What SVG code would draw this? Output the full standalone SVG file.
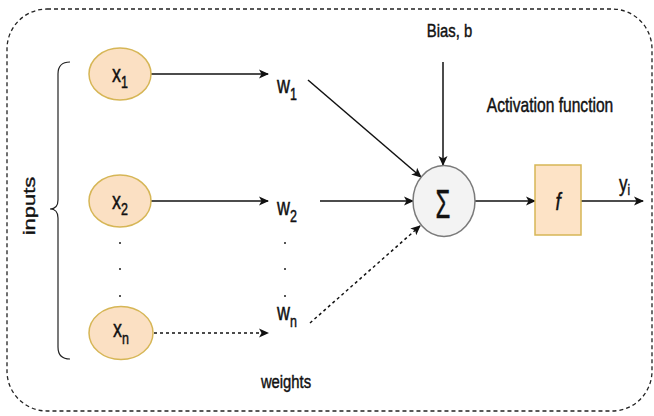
<svg xmlns="http://www.w3.org/2000/svg" width="654" height="416" viewBox="0 0 654 416">
  <style>
    .lbl { font-family: "Liberation Sans", Arial, sans-serif; fill: #111; stroke: #111; stroke-width: 0.45; }
    .frame { fill: none; stroke: #222; stroke-width: 1.3; stroke-dasharray: 4 3; }
    .inp { fill: #fbe0c3; stroke: #d6b656; stroke-width: 1.5; }
    .sum { fill: #f3f3f3; stroke: #7a7a7a; stroke-width: 1.5; }
    .act { fill: #fde3c6; stroke: #d6b656; stroke-width: 1.5; }
    .edge { fill: none; stroke: #111; stroke-width: 1.5; }
    .dash { stroke-dasharray: 3 3; }
    .brace { fill: none; stroke: #222; stroke-width: 1.2; }
    .dot { fill: #555; }
  </style>
  <defs>
    <marker id="arrow" viewBox="0 0 10 10" refX="9" refY="5" markerWidth="10" markerHeight="10" markerUnits="userSpaceOnUse" orient="auto">
      <path d="M0,0.5 L10,5 L0,9.5 L2.5,5 z" fill="#111"/>
    </marker>
  </defs>

  <!-- dashed frame -->
  <rect class="frame" x="7" y="9" width="645" height="402" rx="40" ry="40"/>

  <!-- brace grouping the inputs -->
  <g id="inputs-brace">
    <path class="brace" d="M70,62 Q58,62 58,74 L58,200 Q58,209 50,209 Q58,209 58,218 L58,347 Q58,359 70,359"/>
    <text class="lbl" font-size="22" text-anchor="middle" transform="translate(35,206) scale(0.78,1) rotate(-90)">inputs</text>
  </g>

  <!-- connectors -->
  <g id="connectors">
    <line class="edge" x1="151" y1="74" x2="268" y2="74" marker-end="url(#arrow)"/>
    <line class="edge" x1="151" y1="201" x2="268" y2="201" marker-end="url(#arrow)"/>
    <line class="edge dash" x1="154" y1="333" x2="268" y2="333" marker-end="url(#arrow)"/>
    <line class="edge" x1="308" y1="80" x2="421" y2="177" marker-end="url(#arrow)"/>
    <line class="edge" x1="320" y1="201" x2="413" y2="201" marker-end="url(#arrow)"/>
    <line class="edge dash" x1="310" y1="323" x2="420" y2="226" marker-end="url(#arrow)"/>
    <line class="edge" x1="443" y1="62" x2="443" y2="165" marker-end="url(#arrow)"/>
    <line class="edge" x1="475" y1="201" x2="535" y2="201" marker-end="url(#arrow)"/>
    <line class="edge" x1="581" y1="201" x2="643" y2="201" marker-end="url(#arrow)"/>
  </g>

  <!-- input nodes -->
  <g id="x1">
    <ellipse class="inp" cx="120" cy="74" rx="31" ry="26"/>
    <text class="lbl" font-size="23" text-anchor="middle" transform="translate(120,82) scale(0.78,1)">x<tspan font-size="16" dy="6">1</tspan></text>
  </g>
  <g id="x2">
    <ellipse class="inp" cx="120" cy="201" rx="31" ry="26"/>
    <text class="lbl" font-size="23" text-anchor="middle" transform="translate(120,209) scale(0.78,1)">x<tspan font-size="16" dy="6">2</tspan></text>
  </g>
  <g id="xn">
    <ellipse class="inp" cx="121" cy="333" rx="32" ry="26.5"/>
    <text class="lbl" font-size="23" text-anchor="middle" transform="translate(121,337) scale(0.78,1)">x<tspan font-size="16" dy="7">n</tspan></text>
  </g>

  <!-- vertical ellipsis between inputs and weights -->
  <g id="ellipsis">
    <rect class="dot" x="119" y="242" width="2" height="2"/>
    <rect class="dot" x="119" y="268" width="2" height="2"/>
    <rect class="dot" x="119" y="295" width="2" height="2"/>
    <rect class="dot" x="284" y="242" width="2" height="2"/>
    <rect class="dot" x="284" y="268" width="2" height="2"/>
    <rect class="dot" x="284" y="295" width="2" height="2"/>
  </g>

  <!-- weights -->
  <g id="w1">
    <text class="lbl" font-size="23" text-anchor="middle" transform="translate(287,93) scale(0.78,1)">w<tspan font-size="16" dy="7">1</tspan></text>
  </g>
  <g id="w2">
    <text class="lbl" font-size="23" text-anchor="middle" transform="translate(287,215) scale(0.78,1)">w<tspan font-size="16" dy="7">2</tspan></text>
  </g>
  <g id="wn">
    <text class="lbl" font-size="23" text-anchor="middle" transform="translate(287,320) scale(0.78,1)">w<tspan font-size="16" dy="7">n</tspan></text>
  </g>
  <g id="weights-label">
    <text class="lbl" font-size="19" text-anchor="middle" transform="translate(286,388) scale(0.78,1)">weights</text>
  </g>

  <!-- bias -->
  <g id="bias">
    <text class="lbl" font-size="19" text-anchor="middle" transform="translate(449.5,37) scale(0.78,1)">Bias, b</text>
  </g>

  <!-- summation node -->
  <g id="sum">
    <ellipse class="sum" cx="444" cy="201" rx="31" ry="35.5"/>
    <text class="lbl" font-size="40" text-anchor="middle" transform="translate(443,218) scale(0.6,1)">Σ</text>
  </g>

  <!-- activation -->
  <g id="activation-label">
    <text class="lbl" font-size="20" text-anchor="middle" transform="translate(550,112) scale(0.78,1)">Activation function</text>
  </g>
  <g id="f">
    <rect class="act" x="535" y="165" width="46" height="70"/>
    <text class="lbl" font-size="24" font-style="italic" text-anchor="middle" transform="translate(558,210) scale(0.78,1)">f</text>
  </g>

  <!-- output -->
  <g id="output">
    <text class="lbl" font-size="22" transform="translate(619,191) scale(0.78,1)">y<tspan font-size="15" dy="4">i</tspan></text>
  </g>
</svg>
